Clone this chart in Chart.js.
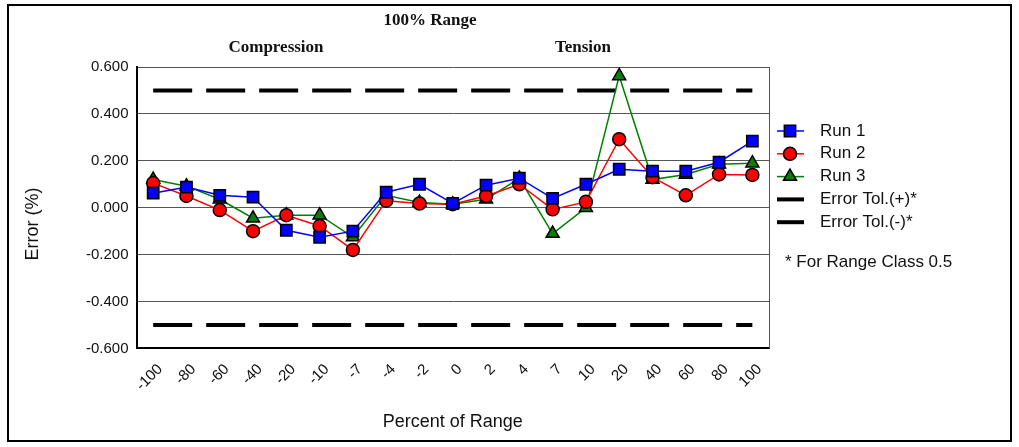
<!DOCTYPE html>
<html lang="en">
<head>
<meta charset="UTF-8">
<title>100% Range</title>
<script src="https://cdn.jsdelivr.net/npm/chart.js"></script>
<style>
  body { margin: 0; background: #fff; }
</style>
</head>
<body>
<canvas id="errChart" width="1019" height="447"></canvas>
<script>
// percent of range (x categories)
const categories = ['-100', '-80', '-60', '-40', '-20', '-10', '-7', '-4', '-2', '0', '2', '4', '7', '10', '20', '40', '60', '80', '100'];

// error (%) per run
const run1 = [0.062, 0.088, 0.053, 0.045, -0.096, -0.126, -0.100, 0.066, 0.100, 0.018, 0.096, 0.126, 0.040, 0.100, 0.164, 0.156, 0.156, 0.194, 0.284];
const run2 = [0.105, 0.050, -0.010, -0.100, -0.032, -0.078, -0.180, 0.030, 0.018, 0.015, 0.050, 0.100, -0.007, 0.025, 0.292, 0.130, 0.053, 0.142, 0.140];
const run3 = [0.120, 0.092, 0.036, -0.045, -0.032, -0.032, -0.125, 0.053, 0.022, 0.015, 0.036, 0.125, -0.110, 0.000, 0.562, 0.120, 0.142, 0.185, 0.190];

// tolerance band for range class 0.5
const tolPlus  = [0.5, 0.5, 0.5, 0.5, 0.5, 0.5, 0.5, 0.5, 0.5, 0.5, 0.5, 0.5, 0.5, 0.5, 0.5, 0.5, 0.5, 0.5, 0.5];
const tolMinus = [-0.5, -0.5, -0.5, -0.5, -0.5, -0.5, -0.5, -0.5, -0.5, -0.5, -0.5, -0.5, -0.5, -0.5, -0.5, -0.5, -0.5, -0.5, -0.5];

const yTicks = [-0.6, -0.4, -0.2, 0.0, 0.2, 0.4, 0.6];

const seriesLabels = ['Run 1', 'Run 2', 'Run 3', 'Error Tol.(+)*', 'Error Tol.(-)*'];

const SANS = "'Liberation Sans', Arial, sans-serif";
const SERIF = "'Liberation Serif', 'Times New Roman', serif";
const INK = '#111';

function runSet(label, data, line, fill, style, radius) {
  return {
    label: label,
    data: data,
    borderColor: line,
    borderWidth: 1.5,
    pointStyle: style,
    pointRadius: radius,
    pointHoverRadius: radius,
    pointBackgroundColor: fill,
    pointBorderColor: '#000',
    pointBorderWidth: 1.5,
    tension: 0,
    fill: false
  };
}

function tolSet(label, data) {
  return {
    label: label,
    data: data,
    borderColor: '#000',
    borderWidth: 4,
    borderDash: [39, 14],
    borderCapStyle: 'butt',
    pointRadius: 0,
    fill: false,
    tension: 0
  };
}

// same shapes chart.js uses for its point styles
function drawMarker(ctx, style, x, y, r, fill) {
  ctx.save();
  ctx.fillStyle = fill;
  ctx.strokeStyle = '#000';
  ctx.lineWidth = 1.5;
  ctx.beginPath();
  if (style === 'rect') {
    const h = r * Math.SQRT1_2;
    ctx.rect(x - h, y - h, h * 2, h * 2);
  } else if (style === 'circle') {
    ctx.arc(x, y, r, 0, Math.PI * 2);
  } else if (style === 'triangle') {
    ctx.moveTo(x, y - r);
    ctx.lineTo(x + r * 0.866, y + r * 0.5);
    ctx.lineTo(x - r * 0.866, y + r * 0.5);
    ctx.closePath();
  }
  ctx.fill();
  ctx.stroke();
  ctx.restore();
}

// titles, legend, frame
const decor = {
  id: 'decor',
  afterDraw(chart) {
    const ctx = chart.ctx;
    const a = chart.chartArea;

    // plot right edge
    ctx.save();
    ctx.strokeStyle = '#555';
    ctx.lineWidth = 1;
    ctx.beginPath();
    ctx.moveTo(a.right + 0.5, a.top);
    ctx.lineTo(a.right + 0.5, a.bottom);
    ctx.stroke();

    // headings
    ctx.fillStyle = INK;
    ctx.textAlign = 'center';
    ctx.textBaseline = 'middle';
    ctx.font = 'bold 17px ' + SERIF;
    ctx.fillText('100% Range', 430, 21);
    ctx.fillText('Compression', 276, 48);
    ctx.fillText('Tension', 583, 48);

    // y axis title
    ctx.save();
    ctx.translate(33, 224);
    ctx.rotate(-Math.PI / 2);
    ctx.font = '18px ' + SANS;
    ctx.fillText('Error (%)', 0, 0);
    ctx.restore();

    // legend
    const lx = 777, tx = 820;
    let ly = 131;
    chart.data.datasets.forEach(ds => {
      ctx.save();
      ctx.strokeStyle = ds.borderColor;
      ctx.lineWidth = ds.borderDash ? 4 : 1.5;
      ctx.beginPath();
      ctx.moveTo(lx, ly);
      ctx.lineTo(lx + 27, ly);
      ctx.stroke();
      ctx.restore();
      if (ds.pointRadius > 0) {
        drawMarker(ctx, ds.pointStyle, lx + 13, ly, ds.pointRadius, ds.pointBackgroundColor);
      }
      ctx.fillStyle = INK;
      ctx.textAlign = 'left';
      ctx.font = '17px ' + SANS;
      ctx.fillText(ds.label, tx, ly);
      ly += 22.8;
    });
    ctx.fillText('* For Range Class 0.5', 785, 262);

    // outer frame
    ctx.strokeStyle = '#000';
    ctx.lineWidth = 2;
    ctx.strokeRect(8, 5, 1003, 436);
    ctx.restore();
  }
};

new Chart(document.getElementById('errChart'), {
  type: 'line',
  data: {
    labels: categories,
    datasets: [
      runSet(seriesLabels[0], run1, '#0000ff', '#0000ff', 'rect', 8),
      runSet(seriesLabels[1], run2, '#ff0000', '#ff0000', 'circle', 6.5),
      runSet(seriesLabels[2], run3, '#008000', '#0a7d0a', 'triangle', 7.5),
      tolSet(seriesLabels[3], tolPlus),
      tolSet(seriesLabels[4], tolMinus)
    ]
  },
  options: {
    responsive: false,
    animation: false,
    devicePixelRatio: 1,
    layout: { padding: { top: 67, right: 250, bottom: 14, left: 78 } },
    plugins: {
      legend: { display: false },
      tooltip: { enabled: false }
    },
    scales: {
      x: {
        type: 'category',
        offset: true,
        grid: { display: false },
        border: { color: '#000', width: 2 },
        ticks: {
          color: INK,
          minRotation: 45,
          maxRotation: 45,
          autoSkip: false,
          padding: 4,
          labelOffset: 7,
          font: { family: SANS, size: 15 }
        },
        title: {
          display: true,
          text: 'Percent of Range',
          color: INK,
          padding: { top: 13, bottom: 0 },
          font: { family: SANS, size: 18 }
        }
      },
      y: {
        min: -0.6,
        max: 0.6,
        afterBuildTicks(scale) {
          scale.ticks = yTicks.map(v => ({ value: v }));
        },
        grid: { color: '#555', lineWidth: 1, drawTicks: false },
        border: { color: '#000', width: 2 },
        ticks: {
          color: INK,
          padding: 8,
          font: { family: SANS, size: 15 },
          callback: v => v.toFixed(3)
        },
        title: { display: false }
      }
    }
  },
  plugins: [decor]
});
</script>
</body>
</html>
